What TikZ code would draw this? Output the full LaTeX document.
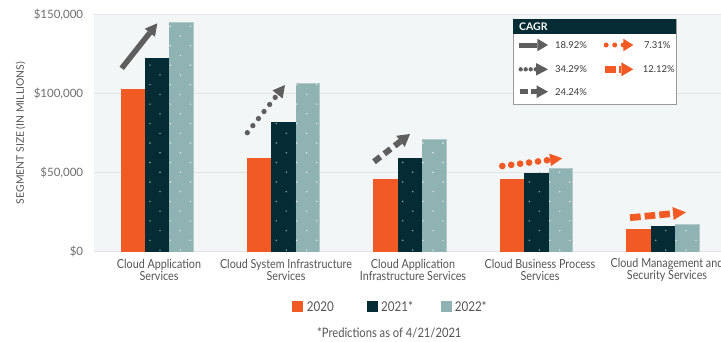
\documentclass[tikz,border=0pt]{standalone}
\usepackage{fontspec}
\setmainfont{Lato}
\newfontfamily\condfont[FakeStretch=0.86]{Lato}
\usetikzlibrary{calc}
\definecolor{corange}{HTML}{F15A24}
\definecolor{cdark}{HTML}{052C35}
\definecolor{cteal}{HTML}{8FB3B2}
\definecolor{ctealedge}{HTML}{B2CACA}
\definecolor{cgrayarrow}{HTML}{5E5E5E}
\definecolor{cgrid}{HTML}{E2E4E5}
\definecolor{cbg}{HTML}{F3F6F7}
\definecolor{ctick}{HTML}{6E6E6E}
\definecolor{ccat}{HTML}{555555}
\definecolor{ctext}{HTML}{3A3A3A}
\definecolor{cbox}{HTML}{9A9A9A}
\definecolor{dotdark}{HTML}{93B0B5}
\definecolor{dotteal}{HTML}{E2ECEC}
\tikzset{
  ticklabel/.style={anchor=east, inner sep=0pt, text=ctick, font=\fontsize{11.5}{12}\selectfont},
  catlabel/.style={align=center, inner sep=0pt, text=ccat, font=\condfont\fontsize{12.5}{12}\selectfont},
  pctlabel/.style={anchor=west, inner sep=0pt, text=ctext, font=\fontsize{9.5}{10}\selectfont},
  yearlabel/.style={anchor=west, inner sep=0pt, text=ccat, font=\condfont\fontsize{13.5}{14}\selectfont},
  yearsq/.style={minimum size=11pt, inner sep=0pt, draw=none},
  gridline/.style={cgrid, line width=1.5pt},
  solidshaft/.style={line width=5.5pt},
  dotshaft/.style={line width=#1, line cap=round, dash pattern=on 0pt off 9pt},
  dashshaft/.style={line width=6pt, dash pattern=on 8pt off 5pt},
}
\newcommand\cagrarrow[6]{%
  \coordinate (#1-hb) at ($(#2)!#5!(#1)$);
  \draw[#4,#3] (#1) -- (#1-hb);
  \fill[#4] (#2) -- ($(#1-hb)!#6!90:(#2)$) -- ($(#1-hb)!#6!-90:(#2)$) -- cycle;
}
\newcommand\orangebar[2]{\fill[corange] (#1,251.7) rectangle (#1+24.3,#2);}
\newcommand\darkbar[2]{%
  \fill[cdark] (#1,251.7) rectangle (#1+24.3,#2);
  \begin{scope}
    \clip (#1,#2) rectangle (#1+24.3,251.7);
    \foreach \k in {-7,...,6}{
      \fill[dotdark] (#1+15,133.3+19.46*\k) circle[radius=0.8pt];
      \fill[dotdark] (#1+5,143.03+19.46*\k) circle[radius=0.8pt];
    }
  \end{scope}}
\newcommand\tealbar[2]{%
  \fill[cteal] (#1,251.7) rectangle (#1+24.3,#2);
  \draw[ctealedge, line width=0.7pt] (#1+24,251.7) -- (#1+24,#2+0.3) -- (#1+0.3,#2+0.3);
  \begin{scope}
    \clip (#1,#2) rectangle (#1+24.3,251.7);
    \foreach \k in {-7,...,6}{
      \fill[dotteal] (#1+11,133.3+19.46*\k) circle[radius=0.8pt];
      \fill[dotteal] (#1+1,143.03+19.46*\k) circle[radius=0.8pt];
      \fill[dotteal] (#1+21,143.03+19.46*\k) circle[radius=0.8pt];
    }
  \end{scope}}
\begin{document}
\begin{tikzpicture}[x=1pt,y=-1pt]
\useasboundingbox (0,0) rectangle (721,341);
\fill[white] (0,0) rectangle (721,341);
% plot background
\fill[cbg] (94,14.5) rectangle (721,251.7);
\draw[gridline] (94,14.5) -- (721,14.5);
\draw[gridline] (94,93.5) -- (721,93.5);
\draw[gridline] (94,172.7) -- (721,172.7);
\draw[gridline] (94,251.7) -- (721,251.7);
% tick labels
\node[ticklabel] (t150) at (83.3,14.5) {\$150,000};
\node[ticklabel] (t100) at (83.3,93.5) {\$100,000};
\node[ticklabel] (t50) at (83.3,172.7) {\$50,000};
\node[ticklabel] (t0) at (83.3,251.7) {\$0};
\node[rotate=90, inner sep=0pt, text=ccat, font=\fontsize{10.4}{11}\selectfont] (ytitle) at (20.7,133) {SEGMENT SIZE (IN MILLIONS)};
% bars
\orangebar{120.7}{89}\darkbar{145}{58.3}\tealbar{169.3}{22.3}
\orangebar{246.7}{158.3}\darkbar{271.3}{122.3}\tealbar{295.7}{83.3}
\orangebar{373.3}{178.7}\darkbar{397.7}{158}\tealbar{422}{139}
\orangebar{500}{179}\darkbar{524.3}{172.7}\tealbar{548.7}{168}
\orangebar{626.3}{229}\darkbar{650.7}{226.3}\tealbar{675}{223.7}
% chart arrows
\coordinate (a1s) at (121.7,68.3); \coordinate (a1t) at (157.3,23.3);
\cagrarrow{a1s}{a1t}{solidshaft}{cgrayarrow}{12pt}{6.5pt}
\coordinate (a2s) at (247.3,132.7); \coordinate (a2t) at (285,85);
\cagrarrow{a2s}{a2t}{dotshaft=5.3pt}{cgrayarrow}{12pt}{6.5pt}
\coordinate (a3s) at (374,161.7); \coordinate (a3t) at (410,134);
\cagrarrow{a3s}{a3t}{dashshaft}{cgrayarrow}{12pt}{7pt}
\coordinate (a4s) at (502.3,166); \coordinate (a4t) at (562.3,158.3);
\cagrarrow{a4s}{a4t}{dotshaft=6.7pt}{corange}{12.3pt}{6.3pt}
\coordinate (a5s) at (630,217.7); \coordinate (a5t) at (686,212.3);
\cagrarrow{a5s}{a5t}{line width=6.7pt, dash pattern=on 10.7pt off 4pt}{corange}{13pt}{6.5pt}
% category labels
\node[catlabel] (c1) at (159,270) {Cloud Application\\Services};
\node[catlabel] (c2) at (286,270) {Cloud System Infrastructure\\Services};
\node[catlabel] (c3) at (413,270) {Cloud Application\\Infrastructure Services};
\node[catlabel] (c4) at (540,270) {Cloud Business Process\\Services};
\node[catlabel] (c5) at (667,270) {Cloud Management and\\Security Services};
% CAGR legend box
\node[draw=cbox, line width=0.6pt, fill=white, minimum width=162.4pt, minimum height=85pt, inner sep=0pt, anchor=north west] (cagrbox) at (513.3,19) {};
\fill[cdark] (cagrbox.north west) rectangle ($(cagrbox.north east)+(0,15)$);
\node[anchor=west, inner sep=0pt, text=white, font=\bfseries\fontsize{10.5}{11}\selectfont] (cagrtitle) at (519,26.8) {CAGR};
\coordinate (l1s) at (519,45); \coordinate (l1t) at (548,45);
\cagrarrow{l1s}{l1t}{line width=5pt}{cgrayarrow}{10.7pt}{6.3pt}
\node[pctlabel] (p1) at (555,45) {18.92\%};
\coordinate (l2s) at (520.7,69.3); \coordinate (l2t) at (548,69.3);
\cagrarrow{l2s}{l2t}{line width=4.3pt, line cap=round, dash pattern=on 0pt off 5pt}{cgrayarrow}{12pt}{6.3pt}
\node[pctlabel] (p2) at (555,69.3) {34.29\%};
\coordinate (l3s) at (520,91.7); \coordinate (l3t) at (548,91.7);
\cagrarrow{l3s}{l3t}{line width=4.5pt, dash pattern=on 8.3pt off 2.7pt}{cgrayarrow}{11.3pt}{6.3pt}
\node[pctlabel] (p3) at (555,91.7) {24.24\%};
\coordinate (l4s) at (606.2,45); \coordinate (l4t) at (633.3,45);
\cagrarrow{l4s}{l4t}{line width=5pt, line cap=round, dash pattern=on 0pt off 8.5pt}{corange}{10pt}{6.3pt}
\node[pctlabel] (p4) at (644,45) {7.31\%};
\coordinate (l5s) at (605.3,69.3); \coordinate (l5t) at (633.3,69.3);
\cagrarrow{l5s}{l5t}{line width=7pt, dash pattern=on 10.7pt off 3pt}{corange}{12pt}{7pt}
\node[pctlabel] (p5) at (642.7,69.3) {12.12\%};
% year legend
\node[yearsq, fill=corange] (s20) at (297.2,306.5) {};
\node[yearlabel] (y20) at (306.7,306.5) {2020};
\node[yearsq, fill=cdark] (s21) at (372.2,306.5) {};
\node[yearlabel] (y21) at (381,306.5) {2021*};
\node[yearsq, fill=cteal] (s22) at (446,306.5) {};
\node[yearlabel] (y22) at (454.6,306.5) {2022*};
\node[inner sep=0pt, text=ccat, font=\condfont\fontsize{13}{14}\selectfont] (foot) at (389.3,332.7) {*Predictions as of 4/21/2021};
\end{tikzpicture}
\end{document}
